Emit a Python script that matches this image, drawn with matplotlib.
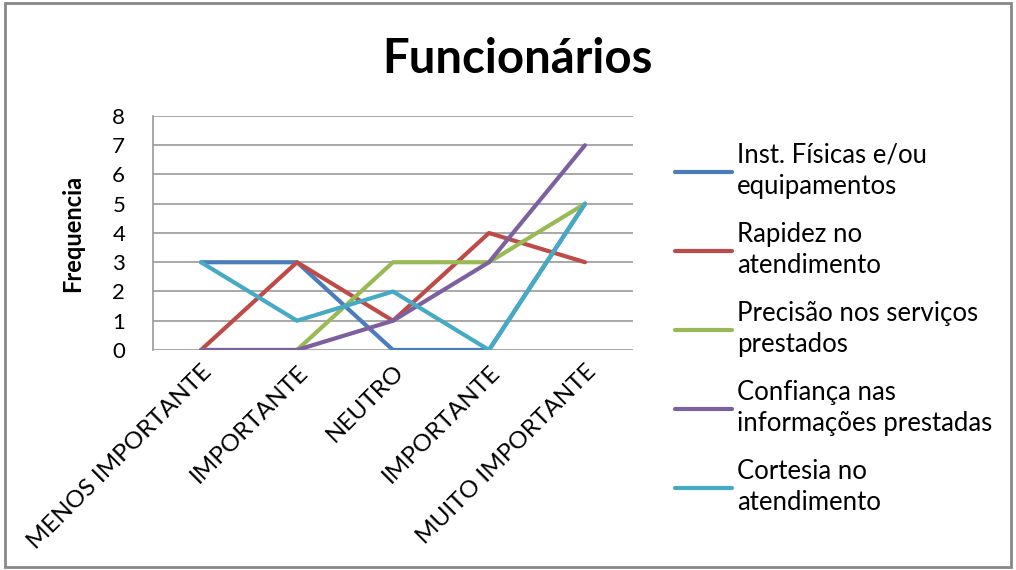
import matplotlib.pyplot as plt
from matplotlib.patches import Rectangle

plt.rcParams['font.family'] = ['Lato', 'DejaVu Sans']

categorias = ["MENOS IMPORTANTE", "IMPORTANTE", "NEUTRO", "IMPORTANTE", "MUITO IMPORTANTE"]

inst_fisicas = [3, 3, 0, 0, 5]
rapidez = [0, 3, 1, 4, 3]
precisao = [0, 0, 3, 3, 5]
confianca = [0, 0, 1, 3, 7]
cortesia = [3, 1, 2, 0, 5]

series = [
    (inst_fisicas, "Inst. Físicas e/ou\nequipamentos", "#4A7EBB"),
    (rapidez, "Rapidez no\natendimento", "#BE4B48"),
    (precisao, "Precisão nos serviços\nprestados", "#98B954"),
    (confianca, "Confiança nas\ninformações prestadas", "#7D60A0"),
    (cortesia, "Cortesia no\natendimento", "#46AAC5"),
]

fig = plt.figure(figsize=(10.16, 5.7), dpi=100)
ax = fig.add_axes([0.1506, 0.386, 0.4724, 0.4105])

x = list(range(len(categorias)))
for valores, nome, cor in series:
    ax.plot(x, valores, color=cor, lw=3, label=nome, solid_capstyle='round')

ax.set_xlim(-0.5, len(categorias) - 0.5)
ax.set_ylim(0, 8)
ax.set_yticks(range(0, 9))
ax.yaxis.grid(True, color='#999999', lw=1.2)
ax.set_axisbelow(True)
for lado in ['top', 'right', 'bottom']:
    ax.spines[lado].set_visible(False)
ax.spines['left'].set_color('#999999')
ax.spines['left'].set_linewidth(1.2)
ax.tick_params(axis='y', length=0, labelsize=16, pad=20)
ax.tick_params(axis='x', length=0, pad=8)

ax.set_xticks(x)
ax.set_xticklabels(categorias, rotation=45, ha='right', va='top',
                   rotation_mode='anchor', fontsize=17.5)

ax.set_ylabel("Frequencia", fontsize=17, fontweight='bold', labelpad=20)

fig.suptitle("Funcionários", fontsize=34, fontweight='bold', x=0.509, y=0.897, va='center')

leg = ax.legend(loc='upper left', bbox_to_anchor=(1.04, 0.985), frameon=False,
                fontsize=18.5, handlelength=2.2, handletextpad=0.2, labelspacing=0.9)
for t in leg.get_texts():
    t.set_linespacing(1.3)

# moldura externa do gráfico
fig.patches.append(Rectangle((0.005, 0.005), 0.99, 0.99, transform=fig.transFigure,
                             fill=False, edgecolor='#888888', lw=2))

fig.savefig("out.png", dpi=100)
